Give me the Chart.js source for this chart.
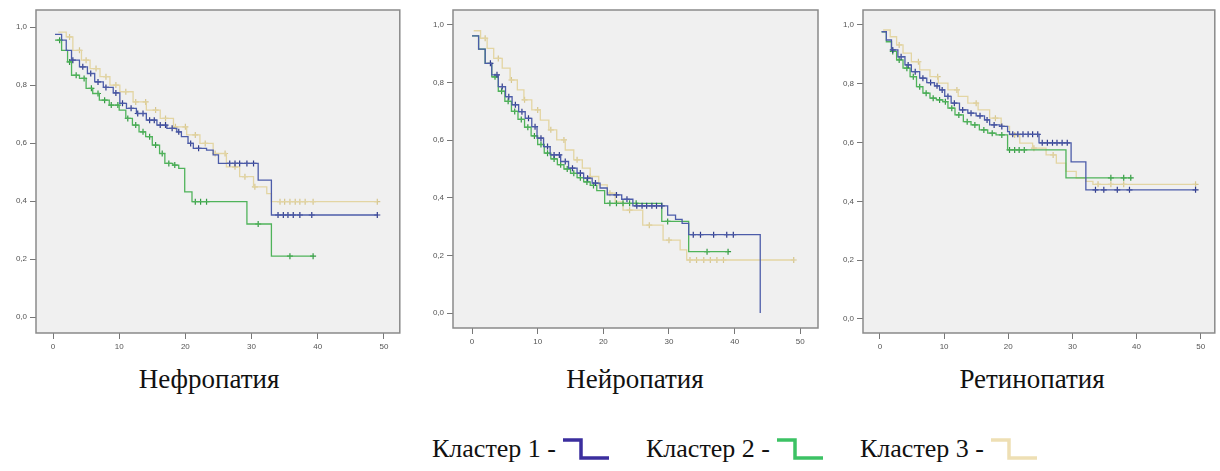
<!DOCTYPE html>
<html>
<head>
<meta charset="utf-8">
<script src="https://cdn.jsdelivr.net/npm/chart.js@4.4.0/dist/chart.umd.min.js"></script>
<style>
    body { margin: 0; width: 1220px; height: 471px; background: #fff; position: relative; overflow: hidden; }
    canvas { position: absolute; top: 0; }
    .title { position: absolute; top: 366px; font: 27px "Liberation Serif", serif; color: #111; line-height: 27px; white-space: nowrap; transform: translateX(-50%); }
    .legend-item { position: absolute; top: 436px; font: 26px "Liberation Serif", serif; color: #111; line-height: 26px; white-space: nowrap; display: flex; align-items: center; }
    .legend-item svg { margin-left: 7px; }
</style>
</head>
<body>
<canvas id="c1" width="405" height="362" style="left:0px"></canvas>
<canvas id="c2" width="410" height="362" style="left:415px"></canvas>
<canvas id="c3" width="395" height="362" style="left:825px"></canvas>
<div id="texts"></div>

<script>
const clusterNames = ["Кластер 1", "Кластер 2", "Кластер 3"];
const panelTitles = ["Нефропатия", "Нейропатия", "Ретинопатия"];
const xTicks = [0, 10, 20, 30, 40, 50];
const yTicks = [0, 0.2, 0.4, 0.6, 0.8, 1.0];

// Нефропатия
const nephroTime1 = [0.3, 1.3, 2, 2.8, 4, 5.2, 6.3, 7.6, 9.1, 10.1, 11.1, 12.6, 14.1, 15.7, 17.2, 18.7, 19.4, 20.4, 21.2, 23.2, 24.2, 25, 31, 33, 49];
const nephroSurv1 = [0.975, 0.955, 0.92, 0.886, 0.863, 0.84, 0.811, 0.792, 0.773, 0.737, 0.72, 0.702, 0.679, 0.662, 0.651, 0.639, 0.622, 0.599, 0.582, 0.576, 0.559, 0.53, 0.472, 0.352, 0.352];
const nephroCens1 = [3, 4.5, 5.7, 6.8, 8, 9.5, 10.5, 11.8, 12.8, 13.6, 14.6, 15.3, 16.2, 17, 18, 19, 20.8, 22, 26.7, 27.5, 28.2, 29.3, 30.3, 34, 34.8, 35.5, 36.3, 37.3, 39.1, 49];
const nephroTime2 = [0.3, 1.3, 2.2, 2.8, 4, 5, 6, 7, 8.5, 10, 11, 12, 13, 14, 15, 16.1, 16.9, 18.1, 19, 19.9, 21, 29.3, 33, 39.3];
const nephroSurv2 = [0.955, 0.92, 0.88, 0.834, 0.823, 0.789, 0.771, 0.748, 0.731, 0.714, 0.685, 0.662, 0.639, 0.622, 0.593, 0.564, 0.53, 0.524, 0.513, 0.432, 0.398, 0.321, 0.21, 0.21];
const nephroCens2 = [1, 2.5, 3.5, 4.7, 5.8, 6.8, 7.8, 8.8, 9.8, 11.3, 12.5, 13.6, 14.6, 15.5, 16.5, 17.5, 18.4, 21.5, 22.3, 23.2, 31, 35.8, 39.3];
const nephroTime3 = [0.8, 2, 3, 4.3, 5.6, 7.1, 8.6, 10.1, 12.1, 14.1, 16.2, 18.2, 20.2, 22.2, 24.2, 26.2, 28.2, 30.3, 32.3, 33, 49];
const nephroSurv3 = [0.983, 0.966, 0.92, 0.886, 0.857, 0.829, 0.8, 0.777, 0.742, 0.714, 0.685, 0.656, 0.628, 0.599, 0.564, 0.518, 0.484, 0.449, 0.426, 0.398, 0.398];
const nephroCens3 = [2.5, 4, 5, 6.5, 8, 9.5, 11, 12.5, 14, 15.5, 17, 18.5, 20, 21.5, 23, 24.5, 26, 27.5, 29, 30.5, 34.3, 35, 35.8, 36.6, 37.3, 38.1, 39.3, 49];

// Нейропатия
const neuroTime1 = [0, 1, 2, 3, 4, 5.1, 6.1, 7.1, 8.1, 9.1, 9.9, 10.9, 11.9, 13.5, 14.7, 16, 17, 18.3, 19.5, 20.6, 22.8, 24.5, 29.8, 31, 32, 33, 43.9];
const neuroSurv1 = [0.962, 0.916, 0.867, 0.827, 0.786, 0.751, 0.723, 0.699, 0.676, 0.647, 0.607, 0.578, 0.549, 0.526, 0.503, 0.486, 0.468, 0.451, 0.434, 0.41, 0.395, 0.372, 0.34, 0.325, 0.311, 0.272, 0];
const neuroCens1 = [2.8, 3.8, 4.6, 5.6, 6.6, 7.6, 8.6, 9.6, 10.5, 11.5, 12.5, 13.3, 14.2, 15.3, 16.5, 17.6, 18.8, 22, 23.6, 25.1, 25.9, 26.6, 27.4, 28.1, 28.9, 33.7, 34.8, 36.8, 38.8, 39.8];
const neuroTime2 = [0, 1, 2, 3, 4, 5, 6, 7, 8, 9, 10, 11, 12, 13, 14, 15, 16, 17, 18, 19, 20.2, 28.9, 33, 39];
const neuroSurv2 = [0.962, 0.916, 0.867, 0.82, 0.77, 0.735, 0.7, 0.672, 0.645, 0.615, 0.585, 0.555, 0.535, 0.515, 0.5, 0.485, 0.47, 0.455, 0.443, 0.425, 0.381, 0.318, 0.213, 0.213];
const neuroCens2 = [3.5, 4.5, 5.5, 6.5, 7.5, 8.5, 9.5, 10.5, 11.5, 12.5, 13.5, 14.5, 15.5, 16.5, 17.5, 18.5, 21, 22, 23, 24, 25, 29.8, 35.8, 39];
const neuroTime3 = [0.25, 1.3, 2.3, 3.3, 4.6, 5.8, 6.9, 7.9, 9.1, 10.4, 11.7, 12.9, 14.2, 15.5, 16.8, 18, 19.3, 20.6, 21.8, 23, 26, 29.1, 31.7, 32.7, 49];
const neuroSurv3 = [0.98, 0.954, 0.919, 0.884, 0.85, 0.809, 0.775, 0.74, 0.705, 0.67, 0.636, 0.601, 0.566, 0.532, 0.503, 0.474, 0.445, 0.416, 0.386, 0.357, 0.305, 0.253, 0.219, 0.184, 0.184];
const neuroCens3 = [2, 4, 6, 8, 10, 12, 14, 16, 18, 21, 24, 27, 30, 33.2, 34.2, 35.3, 36.3, 37.3, 38.3, 49];

// Ретинопатия
const retinoTime1 = [0.26, 1, 1.8, 2.8, 3.9, 4.9, 6.2, 7.3, 8.5, 9.3, 10.1, 11.1, 12.4, 13.7, 15, 16.3, 17.1, 18.7, 19.9, 20.2, 24.8, 29.8, 32.1, 49.2];
const retinoSurv1 = [0.977, 0.949, 0.915, 0.892, 0.864, 0.841, 0.819, 0.804, 0.793, 0.779, 0.757, 0.734, 0.711, 0.7, 0.691, 0.677, 0.66, 0.655, 0.637, 0.628, 0.599, 0.534, 0.439, 0.439];
const retinoCens1 = [2, 3.3, 4.4, 5.5, 6.7, 7.9, 8.9, 9.7, 10.6, 11.6, 12.9, 14.2, 15.6, 16.7, 17.8, 19, 20.7, 21.5, 22.3, 23.1, 23.8, 24.6, 25.3, 26.1, 26.9, 27.6, 28.4, 29.2, 33.6, 34.9, 37, 38.9, 49.2];
const retinoTime2 = [0.26, 1, 1.8, 2.6, 3.6, 4.7, 5.7, 6.7, 7.8, 8.8, 9.8, 10.6, 11.7, 13, 14.2, 15.5, 16.8, 18.1, 19.9, 29, 39.3];
const retinoSurv2 = [0.977, 0.943, 0.91, 0.881, 0.853, 0.824, 0.79, 0.768, 0.751, 0.745, 0.739, 0.717, 0.694, 0.671, 0.66, 0.643, 0.632, 0.626, 0.575, 0.48, 0.48];
const retinoCens2 = [2, 3, 4.2, 5.2, 6.2, 7.2, 8.3, 9.3, 10.2, 11.2, 12.3, 13.6, 14.8, 16.2, 17.5, 19, 20.2, 21, 21.7, 22.5, 36, 38, 39.1];
const retinoTime3 = [0.5, 1.6, 2.6, 3.6, 4.9, 6.2, 7.8, 9.1, 10.6, 12.2, 13.7, 15.3, 17.1, 18.9, 20.2, 21.8, 23.8, 25.9, 27.5, 29, 30.6, 32.1, 33.2, 49.2];
const retinoSurv3 = [0.983, 0.96, 0.932, 0.904, 0.875, 0.847, 0.824, 0.802, 0.779, 0.757, 0.734, 0.711, 0.683, 0.655, 0.626, 0.598, 0.581, 0.558, 0.53, 0.502, 0.479, 0.468, 0.458, 0.458];
const retinoCens3 = [3, 6, 9, 12, 15, 18, 21, 24, 27, 34, 36, 38, 49.2];

const lineColors = ["#4c5ca9", "#4fb35a", "#e3d5a3"];
const markColors = ["#2f3a8a", "#339a42", "#d6c68e"];
const legendColors = ["#3b2e9e", "#3cc264", "#eedfb4"];

// value of the step curve at time t (for placing censor marks on it)
function survAt(times, surv, t) {
    let s = surv[0];
    for (let i = 0; i < times.length; i++) {
        if (times[i] <= t) s = surv[i];
    }
    return s;
}

const framePlugin = {
    id: "frame",
    beforeDraw(chart) {
        const { ctx, chartArea: a } = chart;
        ctx.save();
        ctx.fillStyle = "#f0f0f0";
        ctx.fillRect(a.left, a.top, a.width, a.height);
        ctx.restore();
    },
    afterDraw(chart) {
        const { ctx, chartArea: a } = chart;
        ctx.save();
        ctx.strokeStyle = "#8a8a8a";
        ctx.lineWidth = 1.5;
        ctx.strokeRect(a.left, a.top, a.width, a.height);
        ctx.restore();
    },
};

function makePanel(id, curves, box) {
    const datasets = [];
    curves.forEach((c, k) => {
        datasets.push({
            type: "line",
            data: c.t.map((t, i) => ({ x: t, y: c.s[i] })),
            stepped: true,
            borderColor: lineColors[k],
            borderWidth: 1.3,
            pointRadius: 0,
            fill: false,
        });
        datasets.push({
            type: "scatter",
            data: c.cens.map((t) => ({ x: t, y: survAt(c.t, c.s, t) })),
            pointStyle: "cross",
            pointRadius: 3,
            borderColor: markColors[k],
            borderWidth: 1.2,
            showLine: false,
        });
    });

    new Chart(document.getElementById(id), {
        type: "line",
        data: { datasets },
        plugins: [framePlugin],
        options: {
            responsive: false,
            animation: false,
            layout: { padding: { top: box.top, right: box.right, left: 0, bottom: 0 } },
            plugins: { legend: { display: false }, tooltip: { enabled: false } },
            scales: {
                x: {
                    type: "linear",
                    min: box.xmin,
                    max: box.xmax,
                    afterBuildTicks: (s) => { s.ticks = xTicks.map((v) => ({ value: v })); },
                    afterFit: (s) => { s.height = box.xh; },
                    grid: { drawOnChartArea: false, drawTicks: true, tickLength: 6, color: "#777" },
                    border: { display: false },
                    ticks: { padding: 3, color: "#555", font: { size: 8, family: "Liberation Sans" }, maxRotation: 0 },
                },
                y: {
                    min: box.ymin,
                    max: box.ymax,
                    afterBuildTicks: (s) => { s.ticks = yTicks.map((v) => ({ value: v })); },
                    afterFit: (s) => { s.width = box.yw; },
                    grid: { drawOnChartArea: false, drawTicks: true, tickLength: 6, color: "#777" },
                    border: { display: false },
                    ticks: {
                        padding: 3,
                        color: "#555",
                        font: { size: 8, family: "Liberation Sans" },
                        callback: (v) => v.toFixed(1).replace(".", ","),
                    },
                },
            },
        },
    });
}

makePanel("c1", [
    { t: nephroTime1, s: nephroSurv1, cens: nephroCens1 },
    { t: nephroTime2, s: nephroSurv2, cens: nephroCens2 },
    { t: nephroTime3, s: nephroSurv3, cens: nephroCens3 },
], { top: 10, right: 5, yw: 36, xh: 29, xmin: -2.57, xmax: 52.4, ymin: -0.055, ymax: 1.059 });

makePanel("c2", [
    { t: neuroTime1, s: neuroSurv1, cens: neuroCens1 },
    { t: neuroTime2, s: neuroSurv2, cens: neuroCens2 },
    { t: neuroTime3, s: neuroSurv3, cens: neuroCens3 },
], { top: 10, right: 7, yw: 38, xh: 34, xmin: -2.9, xmax: 52.7, ymin: -0.052, ymax: 1.052 });

makePanel("c3", [
    { t: retinoTime1, s: retinoSurv1, cens: retinoCens1 },
    { t: retinoTime2, s: retinoSurv2, cens: retinoCens2 },
    { t: retinoTime3, s: retinoSurv3, cens: retinoCens3 },
], { top: 10, right: 4, yw: 38, xh: 29, xmin: -2.64, xmax: 52.2, ymin: -0.048, ymax: 1.051 });

// panel titles and legend
const texts = document.getElementById("texts");
const titleCenters = [209, 635, 1032];
panelTitles.forEach((name, i) => {
    const d = document.createElement("div");
    d.className = "title";
    d.style.left = titleCenters[i] + "px";
    d.textContent = name;
    texts.appendChild(d);
});

const legendLeft = [432, 646, 860];
clusterNames.forEach((name, i) => {
    const d = document.createElement("div");
    d.className = "legend-item";
    d.style.left = legendLeft[i] + "px";
    d.innerHTML = `<span>${name} -</span>` +
        `<svg width="46" height="26" viewBox="0 0 46 26"><path d="M0 4 H18 V22 H46" fill="none" stroke="${legendColors[i]}" stroke-width="3.5"/></svg>`;
    texts.appendChild(d);
});
</script>
</body>
</html>
